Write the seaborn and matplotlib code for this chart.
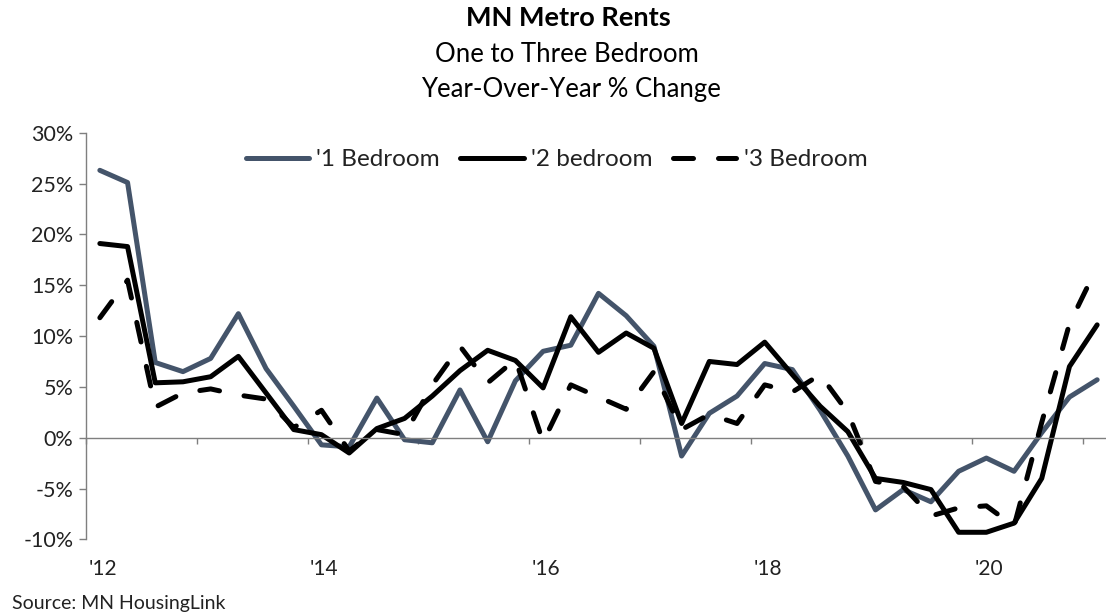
import numpy as np
import pandas as pd
import matplotlib
matplotlib.use("Agg")
import matplotlib.pyplot as plt
import seaborn as sns

# dados trimestrais 2012T1 .. 2021T1 (variacao anual %)
trimestres = pd.period_range("2012Q1", "2021Q1", freq="Q").astype(str).tolist()
um_quarto = [26.3, 25.1, 7.4, 6.5, 7.8, 12.2, 6.8, 3.1, -0.7, -0.9, 3.9, -0.2,
             -0.5, 4.7, -0.4, 5.6, 8.5, 9.1, 14.2, 12.0, 9.0, -1.8, 2.4, 4.1,
             7.3, 6.7, 2.7, -1.8, -7.1, -5.1, -6.3, -3.3, -2.0, -3.3, 0.5, 4.0, 5.7]
dois_quartos = [19.1, 18.8, 5.4, 5.5, 6.0, 8.0, 4.4, 0.8, 0.3, -1.5, 0.9, 1.9,
                4.1, 6.6, 8.6, 7.6, 4.9, 11.9, 8.4, 10.3, 8.8, 1.4, 7.5, 7.2,
                9.4, 6.2, 3.1, 0.6, -4.0, -4.4, -5.1, -9.3, -9.3, -8.4, -4.0, 7.0, 11.1]
tres_quartos = [11.8, 15.5, 3.0, 4.4, 4.8, 4.2, 3.8, 1.0, 2.7, -1.3, 0.8, 0.3,
                5.2, 9.0, 5.4, 7.7, -0.4, 5.2, 4.0, 2.8, 6.5, 0.8, 2.3, 1.4,
                5.2, 4.5, 6.2, 2.5, -4.3, -4.8, -7.7, -6.9, -6.7, -8.7, 1.5, 11.2, 16.8]
rotulos_anos = ["'12", "'14", "'16", "'18", "'20"]
series = ["'1 Bedroom", "'2 bedroom", "'3 Bedroom"]

df = pd.DataFrame({"idx": np.arange(len(trimestres)), "trimestre": trimestres,
                   series[0]: um_quarto, series[1]: dois_quartos, series[2]: tres_quartos})

sns.set_theme(style="white")
plt.rcParams["font.family"] = ["Lato", "DejaVu Sans"]

fig = plt.figure(figsize=(11.06, 6.15), dpi=100)
W, H = 1106, 615
x0, x1, ytop, ybot = 86, 1111, 132.7, 539.4
ax = fig.add_axes([x0 / W, 1 - ybot / H, (x1 - x0) / W, (ybot - ytop) / H])

lw = 3.6
sns.lineplot(data=df, x="idx", y=series[0], ax=ax, color="#44546A", linewidth=lw,
             label=series[0], solid_capstyle="round", solid_joinstyle="round")
sns.lineplot(data=df, x="idx", y=series[1], ax=ax, color="black", linewidth=lw,
             label=series[1], solid_capstyle="round", solid_joinstyle="round")
sns.lineplot(data=df, x="idx", y=series[2], ax=ax, color="black", linewidth=lw,
             label=series[2], dashes=False)
ax.lines[2].set_dashes((4.0, 5.0))
ax.lines[2].set_dash_capstyle("round")

ax.set_xlim(-0.5, len(trimestres) - 0.5)
ax.set_ylim(-10, 30)
ax.set_yticks(np.arange(-10, 31, 5))
ax.set_yticklabels([f"{v}%" for v in range(-10, 31, 5)], fontsize=15.5, color="#222222")
ax.set_xticks(np.arange(-0.5, len(trimestres), 4))
ax.set_xticklabels([])
ax.set_xlabel("")
ax.set_ylabel("")

for s in ["top", "right"]:
    ax.spines[s].set_visible(False)
ax.spines["bottom"].set_position(("data", 0))
for s in ["left", "bottom"]:
    ax.spines[s].set_color("#7f7f7f")
    ax.spines[s].set_linewidth(1.0)
ax.tick_params(axis="y", direction="out", length=5, width=1, color="#7f7f7f", left=True, pad=4)
ax.tick_params(axis="x", direction="out", length=4, width=1, color="#7f7f7f", bottom=True)

# rotulos dos anos na base do grafico
for i, rot in enumerate(rotulos_anos):
    ax.text(i * 8 + 0.1, -0.072, rot, transform=ax.get_xaxis_transform(),
            ha="center", va="center", fontsize=15, color="#222222")

leg = ax.legend(loc="center", bbox_to_anchor=(0.459, 0.933), ncol=3, frameon=False,
                fontsize=17.5, handlelength=2.6, handletextpad=0.3, columnspacing=0.85)
for t in leg.get_texts():
    t.set_color("#222222")

fig.text(568 / W, 1 - 18 / H, "MN Metro Rents", ha="center", va="center",
         fontsize=19.5, fontweight="bold", color="black")
fig.text(567 / W, 1 - 54 / H, "One to Three Bedroom", ha="center", va="center",
         fontsize=18.5, color="black")
fig.text(571 / W, 1 - 90 / H, "Year-Over-Year % Change", ha="center", va="center",
         fontsize=18.5, color="black")
fig.text(12 / W, 1 - 603 / H, "Source: MN HousingLink", ha="left", va="center",
         fontsize=14, color="#222222")

fig.savefig("out.png", dpi=100)
